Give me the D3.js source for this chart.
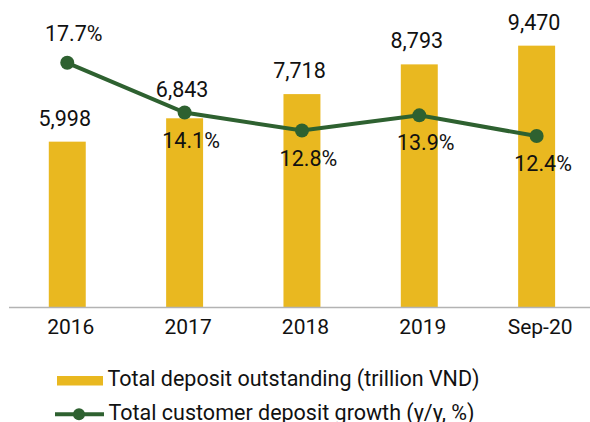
<!DOCTYPE html>
<html>
<head>
<meta charset="utf-8">
<script src="https://cdn.jsdelivr.net/npm/d3@7/dist/d3.min.js"></script>
<style>
  html, body { margin: 0; padding: 0; background: #ffffff; }
  svg { display: block; }
  text { font-family: Roboto, "Noto Sans", sans-serif; fill: #111111; }
</style>
</head>
<body>
<svg id="chart" width="590" height="422"></svg>
<script>
const categories = ["2016", "2017", "2018", "2019", "Sep-20"];
const depositOutstanding = [5998, 6843, 7718, 8793, 9470];
const depositGrowth = [17.7, 14.1, 12.8, 13.9, 12.4];
const seriesNames = ["Total deposit outstanding (trillion VND)", "Total customer deposit growth (y/y, %)"];

const barColor = "#E9B820";
const lineColor = "#2E6130";
const svg = d3.select("#chart");

const x = d3.scaleBand().domain(categories).range([8.6, 595.3]).paddingInner(0.685).paddingOuter(0.3425);
const yBar = d3.scaleLinear().domain([0, 10000]).range([307.5, 31]);
const yLine = d3.scaleLinear().domain([0, 20]).range([307.5, 31]);
const cx = c => x(c) + x.bandwidth() / 2;
const fmt = d3.format(",");

// bars
svg.append("g").selectAll("rect").data(categories).join("rect")
  .attr("x", c => x(c)).attr("width", x.bandwidth())
  .attr("y", (c, i) => yBar(depositOutstanding[i]))
  .attr("height", (c, i) => yBar(0) - yBar(depositOutstanding[i]))
  .attr("fill", barColor);

// x axis
const xAxis = svg.append("g").attr("transform", `translate(0,${yBar(0)})`)
  .call(d3.axisBottom(x).tickSize(0).tickPadding(12));
xAxis.select(".domain").attr("stroke", "#b3b3b3").attr("stroke-width", 1.3).attr("d", `M9,0H590`);
xAxis.selectAll(".tick text").attr("font-size", "21px").attr("fill", "#111111").attr("dx", 3.5)
  .style("font-family", "Roboto, sans-serif");

// line
const line = d3.line().x((d, i) => cx(categories[i])).y(d => yLine(d));
svg.append("path").datum(depositGrowth).attr("d", line)
  .attr("fill", "none").attr("stroke", lineColor).attr("stroke-width", 4);
svg.append("g").selectAll("circle").data(depositGrowth).join("circle")
  .attr("cx", (d, i) => cx(categories[i])).attr("cy", d => yLine(d)).attr("r", 7)
  .attr("fill", lineColor);

// bar labels (moved above the line if the line passes through them)
svg.append("g").selectAll("text").data(depositOutstanding).join("text")
  .attr("x", (d, i) => cx(categories[i]) - 2.5)
  .attr("y", (d, i) => {
    const top = yBar(d), ly = yLine(depositGrowth[i]);
    const base = top - 16;
    if (ly > base - 21 && ly < top) return ly - 16;
    return base;
  })
  .attr("text-anchor", "middle").attr("font-size", "21.5px").text(d => fmt(d));

// line labels
svg.append("g").selectAll("text").data(depositGrowth).join("text")
  .attr("x", (d, i) => cx(categories[i]) + 6.5)
  .attr("y", (d, i) => {
    const ly = yLine(d), top = yBar(depositOutstanding[i]);
    return ly < top - 40 ? ly - 22 : ly + 35;
  })
  .attr("text-anchor", "middle").attr("font-size", "21.5px").text(d => d.toFixed(1) + "%");

// legend
const lg = svg.append("g");
lg.append("rect").attr("x", 57).attr("y", 376).attr("width", 46).attr("height", 9.5).attr("fill", barColor);
lg.append("text").attr("x", 107.5).attr("y", 385.5).attr("font-size", "21.5px").text(seriesNames[0]);
lg.append("line").attr("x1", 55).attr("x2", 104).attr("y1", 414.3).attr("y2", 414.3)
  .attr("stroke", lineColor).attr("stroke-width", 4);
lg.append("circle").attr("cx", 79).attr("cy", 414.3).attr("r", 6).attr("fill", lineColor);
lg.append("text").attr("x", 108.5).attr("y", 419.5).attr("font-size", "21.5px").text(seriesNames[1]);
</script>
</body>
</html>
